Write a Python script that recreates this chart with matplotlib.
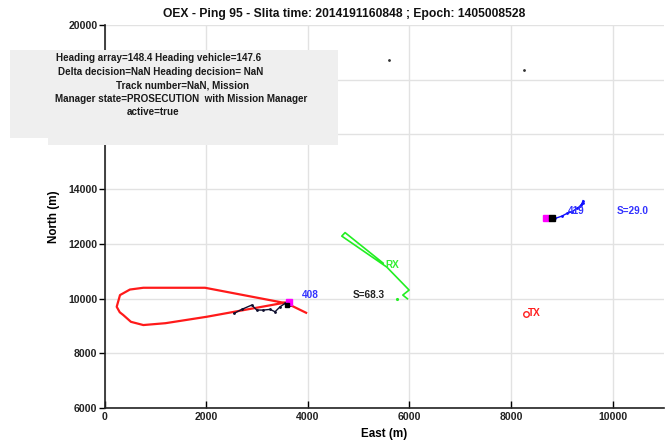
import matplotlib
matplotlib.use("Agg")
import matplotlib.pyplot as plt
from matplotlib.patches import Polygon
from matplotlib.transforms import Affine2D

plt.rcParams['font.family'] = ['Liberation Sans', 'DejaVu Sans']

# ---- data ----
title_text = "OEX - Ping 95 - Slita time: 2014191160848 ; Epoch: 1405008528"
info_lines = [
    "Heading array=148.4 Heading vehicle=147.6",
    "Delta decision=NaN Heading decision= NaN",
    "Track number=NaN, Mission",
    "Manager state=PROSECUTION  with Mission Manager",
    "active=true",
]
x_ticks = [0, 2000, 4000, 6000, 8000, 10000]
y_ticks = [6000, 8000, 10000, 12000, 14000, 16000, 18000, 20000]

# vehicle 408: planned loop (red) and recent track (black)
loop_e = [3967, 3587, 1978, 764, 500, 305, 240, 300, 370, 520, 764, 1200, 2012, 2800, 3612]
loop_n = [9481, 9825, 10395, 10395, 10330, 10128, 9700, 9500, 9397, 9150, 9032, 9100, 9335, 9600, 9872]
track408_e = [2549, 2701, 2898, 2996, 3126, 3258, 3356, 3455, 3553, 3652]
track408_n = [9459, 9605, 9763, 9580, 9580, 9605, 9518, 9700, 9825, 9763]
pos408 = (3622, 9890)
head408 = (3593, 9763)

# vehicle 419 track (blue)
track419_e = [8868, 9000, 9098, 9197, 9301, 9360, 9419, 9380, 9419]
track419_n = [12930, 13014, 13112, 13171, 13306, 13379, 13489, 13415, 13580]
pos419 = (8681, 12952)
head419 = (8809, 12952)

# receiver (green)
rx_e = [5961, 5870, 5994, 5555, 4669, 4734, 5482]
rx_n = [9993, 10128, 10311, 11151, 12283, 12411, 11297]
rx_dot = (5752, 9993)

# transmitter
tx = (8287, 9452)

# isolated contacts
dots_e = [5606, 8264]
dots_n = [18712, 18347]

# ---- figure ----
W, H = 665, 443
fig = plt.figure(figsize=(W / 100, H / 100), dpi=100)
ax = fig.add_axes([104.5 / W, 1 - 408 / H, (663.5 - 104.5) / W, (408 - 25) / H])

ax.set_xlim(0, 11000)
ax.set_ylim(6000, 20000)
ax.set_xticks(x_ticks)
ax.set_yticks(y_ticks)
ax.grid(True, color='#e2e2e2', lw=1.0)
ax.set_axisbelow(True)
for s in ['top', 'right']:
    ax.spines[s].set_visible(False)
for s in ['left', 'bottom']:
    ax.spines[s].set_linewidth(1.2)
    ax.spines[s].set_color('#222222')
ax.tick_params(axis='x', direction='in', length=5, width=1.0, labelsize=7.6, pad=3)
ax.tick_params(axis='y', direction='out', length=4, width=1.0, labelsize=7.6, pad=1)
for lbl in ax.get_xticklabels() + ax.get_yticklabels():
    lbl.set_fontweight('bold')
    lbl.set_color('#222222')

ax.plot(loop_e, loop_n, color='#ff1a1a', lw=1.6, solid_joinstyle='round')
ax.plot(track408_e, track408_n, color='#101030', lw=1.0, marker='.', ms=2)
ax.plot(*pos408, marker='s', color='#ff00ff', ms=5)
ax.plot(*head408, marker='s', color='black', ms=3.5)

ax.plot(track419_e, track419_n, color='#1010ff', lw=1.0, marker='.', ms=2)
ax.plot(*pos419, marker='s', color='#ff00ff', ms=5)
ax.plot(*head419, marker='s', color='black', ms=5)

ax.plot(rx_e, rx_n, color='#22ee22', lw=1.2)
ax.plot(*rx_dot, marker='.', color='#22ee22', ms=2.5)

ax.plot(*tx, marker='o', mfc='none', mec='#ff2020', ms=4, mew=1.0)
ax.plot(dots_e, dots_n, ls='none', marker='.', color='#333333', ms=2)

txt_kw = dict(fontsize=7.2, fontweight='bold', va='center', ha='left')
ax.text(3888, 10128, "408", color='#3333ff', **txt_kw)
ax.text(4886, 10128, "S=68.3", color='#222222', **txt_kw)
ax.text(5522, 11224, "RX", color='#33ee33', **txt_kw)
ax.text(8340, 9481, "TX", color='#ff2020', **txt_kw)
ax.text(9124, 13196, "419", color='#3333ff', **txt_kw)
ax.text(10083, 13196, "S=29.0", color='#3333ff', **txt_kw)

ax.set_xlabel("East (m)", fontsize=8.4, fontweight='bold', labelpad=4)
ax.set_ylabel("North (m)", fontsize=8.4, fontweight='bold', labelpad=6)

fig.text(344 / W, 1 - 14 / H, title_text, ha='center', va='center',
         fontsize=8.7, fontweight='bold', color='#111111')

# info panel drawn over the axes (pixel coordinates, origin at top-left)
panel = Polygon([(10, 50), (338, 50), (338, 145), (48, 145), (48, 138), (10, 138)],
                closed=True, facecolor='#efefef', edgecolor='none', zorder=5)
panel.set_transform(Affine2D().scale(1, -1).translate(0, H))
fig.patches.append(panel)
line_x = [159, 161, 183, 181, 153]
line_y = [58, 72, 86, 99, 112]
for t, lx, ly in zip(info_lines, line_x, line_y):
    fig.text(lx / W, 1 - ly / H, t, ha='center', va='center', fontsize=7.1,
             fontweight='bold', color='#1a1a1a', zorder=6)

fig.savefig("out.png", dpi=100)
